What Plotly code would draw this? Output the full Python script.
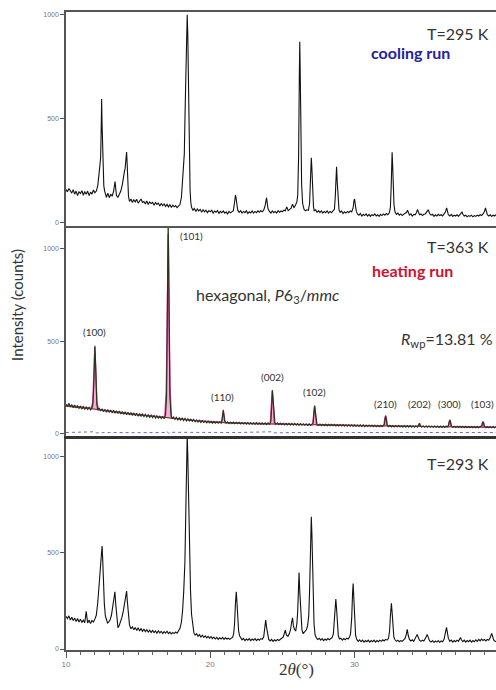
import plotly.graph_objects as go

# ---------------- data (2theta in degrees, intensity in counts) ----------------
cooling_295K = [
(10.0,158),(10.1,146),(10.2,162),(10.3,150),(10.4,140),(10.5,157),(10.6,135),(10.7,150),(10.8,128),(10.9,146),
(11.0,138),(11.1,152),(11.2,130),(11.3,148),(11.4,134),(11.5,150),(11.6,128),(11.7,145),(11.8,135),(11.9,155),
(12.0,142),(12.1,150),(12.2,175),(12.3,240),(12.35,295),(12.4,310),(12.44,450),(12.47,592),(12.5,470),(12.54,330),
(12.58,230),(12.62,175),(12.68,150),(12.75,132),(12.8,120),(12.9,140),(13.0,118),(13.1,135),(13.2,125),(13.3,150),
(13.35,190),(13.4,196),(13.45,160),(13.5,128),(13.6,120),(13.7,138),(13.8,150),(13.9,180),(14.0,235),(14.05,245),
(14.1,260),(14.15,300),(14.2,338),(14.24,280),(14.28,180),(14.33,125),(14.4,100),(14.5,112),(14.6,95),(14.7,108),
(14.8,98),(14.9,110),(15.0,92),(15.1,104),(15.2,112),(15.3,95),(15.4,100),(15.5,88),(15.6,102),(15.7,85),
(15.8,98),(15.9,90),(16.0,96),(16.1,82),(16.2,95),(16.3,86),(16.4,92),(16.5,78),(16.6,90),(16.7,80),
(16.8,88),(16.9,76),(17.0,86),(17.1,74),(17.2,84),(17.3,72),(17.4,82),(17.5,74),(17.6,80),(17.7,70),
(17.8,78),(17.9,85),(18.0,120),(18.1,205),(18.2,330),(18.25,520),(18.3,760),(18.35,940),(18.4,998),(18.44,900),
(18.48,650),(18.52,420),(18.56,260),(18.6,150),(18.65,95),(18.7,72),(18.8,58),(18.9,66),(19.0,52),(19.1,64),
(19.2,55),(19.3,62),(19.4,48),(19.5,60),(19.6,50),(19.7,58),(19.8,46),(19.9,56),(20.0,50),(20.1,58),
(20.2,44),(20.3,54),(20.4,48),(20.5,56),(20.6,42),(20.7,52),(20.8,46),(20.9,54),(21.0,44),(21.1,50),
(21.2,40),(21.3,52),(21.4,45),(21.5,50),(21.6,56),(21.68,95),(21.74,130),(21.78,120),(21.84,80),(21.9,58),
(22.0,48),(22.1,56),(22.2,44),(22.3,52),(22.4,46),(22.5,55),(22.6,42),(22.7,50),(22.8,45),(22.9,54),
(23.0,44),(23.1,52),(23.2,46),(23.3,55),(23.4,48),(23.5,56),(23.6,50),(23.7,58),(23.8,80),(23.86,112),
(23.9,118),(23.95,90),(24.0,65),(24.1,52),(24.2,44),(24.3,54),(24.4,46),(24.5,52),(24.6,44),(24.7,56),
(24.8,48),(24.9,54),(25.0,50),(25.1,58),(25.2,55),(25.3,74),(25.4,56),(25.5,62),(25.6,68),(25.7,87),
(25.8,70),(25.9,82),(26.0,98),(26.06,130),(26.12,320),(26.17,700),(26.2,868),(26.24,680),(26.28,380),(26.33,180),
(26.4,90),(26.5,62),(26.6,55),(26.7,60),(26.8,58),(26.88,90),(26.94,200),(27.0,310),(27.04,260),(27.09,140),
(27.15,75),(27.2,55),(27.3,60),(27.4,48),(27.5,56),(27.6,46),(27.7,54),(27.8,44),(27.9,52),(28.0,46),
(28.1,54),(28.2,44),(28.3,52),(28.4,46),(28.5,54),(28.6,62),(28.66,120),(28.72,220),(28.75,267),(28.8,190),
(28.85,100),(28.92,60),(29.0,48),(29.1,54),(29.2,42),(29.3,50),(29.4,44),(29.5,52),(29.6,46),(29.7,54),
(29.8,50),(29.9,70),(29.96,105),(30.0,112),(30.05,85),(30.12,52),(30.2,40),(30.3,34),(30.4,42),(30.5,30),
(30.6,38),(30.7,32),(30.8,40),(30.9,30),(31.0,38),(31.1,28),(31.2,36),(31.3,32),(31.4,40),(31.5,30),
(31.6,36),(31.7,28),(31.8,38),(31.9,32),(32.0,40),(32.1,34),(32.2,42),(32.3,36),(32.4,44),(32.48,70),
(32.54,180),(32.6,336),(32.64,270),(32.68,160),(32.73,85),(32.8,50),(32.9,38),(33.0,44),(33.1,34),(33.2,40),
(33.3,32),(33.4,38),(33.5,42),(33.6,48),(33.67,58),(33.75,42),(33.8,34),(33.9,40),(34.0,30),(34.1,38),
(34.2,36),(34.3,48),(34.36,62),(34.45,44),(34.5,36),(34.6,40),(34.7,32),(34.8,38),(34.9,40),(35.0,50),
(35.1,60),(35.2,42),(35.3,34),(35.4,38),(35.5,28),(35.6,36),(35.7,30),(35.8,38),(35.9,32),(36.0,36),
(36.1,30),(36.2,40),(36.3,50),(36.38,69),(36.45,50),(36.5,36),(36.6,30),(36.7,38),(36.8,28),(36.9,34),
(37.0,30),(37.1,36),(37.2,28),(37.3,38),(37.4,44),(37.45,50),(37.5,38),(37.6,30),(37.7,34),(37.8,26),
(37.9,32),(38.0,28),(38.1,34),(38.2,26),(38.3,32),(38.4,28),(38.5,34),(38.6,30),(38.7,36),(38.8,32),
(38.9,40),(39.0,52),(39.07,69),(39.15,48),(39.2,36),(39.3,30),(39.4,36),(39.5,28),(39.6,34),(39.7,30),(39.8,36),
]

heating_363K_obs = [
(10.0,160),(10.1,150),(10.2,166),(10.3,148),(10.4,158),(10.5,142),(10.6,156),(10.7,140),(10.8,152),(10.9,138),
(11.0,150),(11.1,136),(11.2,148),(11.3,134),(11.4,146),(11.5,132),(11.6,144),(11.7,130),(11.8,142),(11.85,150),
(11.92,250),(11.97,420),(12.0,477),(12.04,400),(12.08,250),(12.14,160),(12.2,128),(12.3,140),(12.4,124),(12.5,136),
(12.6,120),(12.7,134),(12.8,118),(12.9,132),(13.0,116),(13.1,130),(13.2,114),(13.3,128),(13.4,112),(13.5,126),
(13.6,110),(13.7,124),(13.8,108),(13.9,122),(14.0,106),(14.1,120),(14.2,104),(14.3,118),(14.4,102),(14.5,116),
(14.6,100),(14.7,114),(14.8,98),(14.9,112),(15.0,96),(15.1,110),(15.2,95),(15.3,108),(15.4,94),(15.5,106),
(15.6,92),(15.7,104),(15.8,90),(15.9,102),(16.0,88),(16.1,100),(16.2,86),(16.3,98),(16.4,85),(16.5,96),
(16.6,84),(16.7,94),(16.8,82),(16.9,105),(16.97,200),(17.02,600),(17.06,1100),(17.08,1160),(17.11,1000),(17.15,500),
(17.2,200),(17.28,100),(17.35,82),(17.45,92),(17.55,78),(17.65,90),(17.75,76),(17.85,88),(17.95,74),(18.05,86),
(18.15,72),(18.25,84),(18.35,70),(18.45,82),(18.55,70),(18.65,80),(18.75,68),(18.85,78),(18.95,66),(19.05,76),
(19.15,64),(19.25,74),(19.35,62),(19.45,72),(19.55,62),(19.65,70),(19.75,60),(19.85,70),(19.95,60),(20.05,68),
(20.15,58),(20.25,68),(20.35,58),(20.45,66),(20.55,58),(20.65,66),(20.75,58),(20.82,75),(20.87,110),(20.9,130),
(20.94,105),(21.0,70),(21.1,58),(21.2,66),(21.3,56),(21.4,64),(21.5,56),(21.6,64),(21.7,55),(21.8,63),
(21.9,55),(22.0,63),(22.1,54),(22.2,62),(22.3,54),(22.4,62),(22.5,53),(22.6,62),(22.7,53),(22.8,61),
(22.9,53),(23.0,61),(23.1,52),(23.2,61),(23.3,52),(23.4,60),(23.5,52),(23.6,60),(23.7,52),(23.8,60),
(23.9,51),(24.0,60),(24.1,52),(24.2,68),(24.25,140),(24.3,238),(24.34,200),(24.4,110),(24.48,62),(24.55,52),
(24.65,60),(24.75,50),(24.85,59),(24.95,50),(25.05,58),(25.15,49),(25.25,58),(25.35,49),(25.45,57),(25.55,48),
(25.65,57),(25.75,48),(25.85,57),(25.95,48),(26.05,56),(26.15,47),(26.25,56),(26.35,47),(26.45,55),(26.55,47),
(26.65,55),(26.75,46),(26.85,55),(26.95,46),(27.05,54),(27.13,60),(27.18,110),(27.23,153),(27.27,125),(27.33,75),
(27.4,52),(27.5,46),(27.6,54),(27.7,45),(27.8,53),(27.9,45),(28.0,53),(28.1,44),(28.2,52),(28.3,44),
(28.4,52),(28.5,44),(28.6,52),(28.7,43),(28.8,51),(28.9,43),(29.0,51),(29.1,43),(29.2,51),(29.3,42),
(29.4,50),(29.5,42),(29.6,50),(29.7,42),(29.8,50),(29.9,41),(30.0,50),(30.1,41),(30.2,49),(30.3,41),
(30.4,49),(30.5,40),(30.6,49),(30.7,40),(30.8,48),(30.9,40),(31.0,48),(31.1,40),(31.2,48),(31.3,39),
(31.4,48),(31.5,39),(31.6,47),(31.7,39),(31.8,47),(31.9,39),(32.0,47),(32.07,52),(32.12,85),(32.15,99),
(32.19,80),(32.25,50),(32.35,40),(32.45,47),(32.55,38),(32.65,46),(32.75,38),(32.85,46),(32.95,38),(33.05,46),
(33.15,38),(33.25,45),(33.35,37),(33.45,45),(33.55,37),(33.65,45),(33.75,37),(33.85,45),(33.95,37),(34.05,44),
(34.15,37),(34.25,44),(34.35,37),(34.45,48),(34.5,58),(34.55,46),(34.65,37),(34.75,44),(34.85,36),(34.95,44),
(35.05,36),(35.15,44),(35.25,36),(35.35,43),(35.45,36),(35.55,43),(35.65,36),(35.75,43),(35.85,35),(35.95,43),
(36.05,35),(36.15,43),(36.25,35),(36.35,43),(36.45,38),(36.52,48),(36.57,70),(36.6,76),(36.64,65),(36.7,44),
(36.8,36),(36.9,42),(37.0,35),(37.1,42),(37.2,35),(37.3,42),(37.4,34),(37.5,42),(37.6,34),(37.7,42),
(37.8,34),(37.9,41),(38.0,34),(38.1,41),(38.2,34),(38.3,41),(38.4,34),(38.5,41),(38.6,34),(38.7,41),
(38.82,46),(38.87,62),(38.9,66),(38.94,58),(39.0,42),(39.1,34),(39.2,40),(39.3,33),(39.4,40),(39.5,33),
(39.6,40),(39.7,33),(39.8,40),
]

heating_363K_calc = [
(10.0,155),(11.75,139),(11.86,170),(11.93,330),(12.0,470),(12.07,330),(12.14,170),(12.25,131),(14.0,113),(15.0,104),
(16.85,91),(16.95,240),(17.02,640),(17.08,1080),(17.14,640),(17.21,240),(17.31,87),(19.0,72),(20.78,64),(20.85,100),
(20.9,125),(20.95,100),(21.02,62),(22.5,58),(24.16,55),(24.23,150),(24.3,232),(24.37,150),(24.44,55),(26.0,52),
(27.1,50),(27.17,110),(27.23,150),(27.29,110),(27.36,50),(30.0,46),(32.03,43),(32.09,80),(32.15,97),(32.21,80),
(32.27,43),(34.42,41),(34.5,57),(34.58,41),(36.49,40),(36.55,65),(36.6,75),(36.65,65),(36.71,40),(38.8,38),
(38.85,58),(38.9,66),(38.95,58),(39.0,38),(39.8,37),
]

heating_363K_bg = [
(10.0,150),(12.0,134),(14.0,112),(15.0,104),(17.0,88),(19.0,70),(20.0,64),(22.5,56),(25.0,52),(30.0,45),(35.0,40),(39.8,36),
]

heating_363K_diff = [
(10.0,8),(11.9,8),(12.0,12),(12.1,6),(13.0,8),(15.0,7),(16.5,9),(16.9,8),(17.0,14),(17.1,4),(17.3,9),(19.0,8),
(22.0,8),(24.3,12),(24.4,6),(26.0,8),(30.0,8),(32.15,11),(33.0,8),(36.6,10),(38.9,10),(39.8,8),
]

cooling_293K = [
(10.0,170),(10.1,158),(10.2,172),(10.3,150),(10.4,165),(10.5,148),(10.6,160),(10.7,142),(10.8,158),(10.9,140),
(11.0,155),(11.1,138),(11.2,150),(11.3,136),(11.4,195),(11.45,150),(11.5,135),(11.6,150),(11.7,132),(11.8,148),
(11.9,140),(12.0,155),(12.1,175),(12.2,240),(12.3,342),(12.38,380),(12.44,460),(12.5,534),(12.54,470),(12.6,330),
(12.66,230),(12.73,170),(12.8,150),(12.88,135),(12.95,140),(13.05,150),(13.15,175),(13.25,230),(13.32,270),(13.39,297),
(13.45,230),(13.52,150),(13.6,110),(13.68,120),(13.78,140),(13.88,165),(13.98,200),(14.06,230),(14.12,270),(14.2,300),
(14.26,240),(14.33,160),(14.4,125),(14.5,105),(14.6,115),(14.7,100),(14.8,112),(14.9,96),(15.0,110),(15.1,94),
(15.2,106),(15.3,92),(15.4,104),(15.5,90),(15.6,100),(15.7,88),(15.8,98),(15.9,86),(16.0,96),(16.1,85),
(16.2,94),(16.3,82),(16.4,95),(16.5,84),(16.6,92),(16.7,80),(16.8,90),(16.9,82),(17.0,92),(17.1,80),
(17.2,88),(17.3,78),(17.4,86),(17.5,80),(17.6,88),(17.7,82),(17.8,92),(17.9,107),(18.0,140),(18.08,200),
(18.16,300),(18.24,450),(18.3,700),(18.35,950),(18.4,1110),(18.44,1000),(18.48,800),(18.53,560),(18.58,380),(18.63,300),
(18.7,180),(18.78,110),(18.86,85),(18.95,72),(19.05,80),(19.15,66),(19.25,74),(19.35,62),(19.45,72),(19.55,60),
(19.65,68),(19.75,58),(19.85,66),(19.95,56),(20.05,64),(20.15,54),(20.25,62),(20.35,52),(20.45,60),(20.55,50),
(20.65,58),(20.75,52),(20.85,60),(20.95,50),(21.05,58),(21.15,52),(21.25,56),(21.35,50),(21.45,58),(21.55,62),
(21.62,80),(21.68,130),(21.74,230),(21.8,297),(21.85,240),(21.9,150),(21.96,95),(22.03,68),(22.1,56),(22.2,48),
(22.3,55),(22.4,44),(22.5,52),(22.6,46),(22.7,54),(22.8,44),(22.9,52),(23.0,46),(23.1,54),(23.2,44),
(23.3,52),(23.4,46),(23.5,54),(23.6,50),(23.7,62),(23.78,110),(23.84,150),(23.9,112),(23.98,65),(24.05,50),
(24.15,42),(24.25,50),(24.35,40),(24.45,48),(24.55,42),(24.65,50),(24.75,44),(24.85,52),(24.95,56),(25.05,62),
(25.15,80),(25.2,98),(25.28,72),(25.38,66),(25.48,80),(25.56,100),(25.64,140),(25.7,162),(25.76,120),(25.84,100),
(25.92,95),(26.0,130),(26.06,200),(26.11,330),(26.15,397),(26.2,300),(26.27,160),(26.35,100),(26.43,80),(26.5,88),
(26.58,95),(26.66,100),(26.74,120),(26.82,170),(26.88,300),(26.94,520),(27.0,686),(27.04,600),(27.08,420),(27.13,250),
(27.19,130),(27.26,75),(27.35,58),(27.45,50),(27.55,56),(27.65,46),(27.75,54),(27.85,44),(27.95,52),(28.05,46),
(28.15,54),(28.25,48),(28.35,56),(28.45,60),(28.53,80),(28.6,140),(28.66,230),(28.7,259),(28.75,210),(28.8,120),
(28.87,70),(28.95,52),(29.05,56),(29.15,46),(29.25,54),(29.35,48),(29.45,56),(29.55,52),(29.65,62),(29.72,80),
(29.8,160),(29.86,290),(29.9,340),(29.95,260),(30.0,140),(30.07,70),(30.15,50),(30.25,40),(30.35,48),(30.45,38),
(30.55,46),(30.65,36),(30.75,44),(30.85,38),(30.95,46),(31.05,36),(31.15,44),(31.25,38),(31.35,46),(31.45,36),
(31.55,44),(31.65,38),(31.75,46),(31.85,40),(31.95,48),(32.05,42),(32.15,50),(32.25,46),(32.35,56),(32.42,90),
(32.48,170),(32.55,237),(32.6,190),(32.66,110),(32.72,62),(32.8,48),(32.9,40),(33.0,46),(33.1,38),(33.2,44),
(33.3,40),(33.4,48),(33.5,55),(33.58,75),(33.65,102),(33.72,70),(33.8,50),(33.9,42),(34.0,48),(34.1,40),
(34.2,52),(34.3,66),(34.34,76),(34.4,62),(34.5,46),(34.6,40),(34.7,46),(34.8,42),(34.9,52),(34.98,66),
(35.03,76),(35.1,58),(35.2,42),(35.3,36),(35.4,44),(35.5,34),(35.6,42),(35.7,36),(35.8,44),(35.9,34),
(36.0,42),(36.1,38),(36.2,50),(36.28,80),(36.34,108),(36.37,112),(36.42,90),(36.5,55),(36.6,40),(36.7,46),
(36.8,36),(36.9,44),(37.0,38),(37.1,46),(37.2,40),(37.3,52),(37.34,60),(37.4,48),(37.5,38),(37.6,46),
(37.7,36),(37.8,44),(37.9,38),(38.0,46),(38.1,36),(38.2,44),(38.3,38),(38.4,48),(38.5,40),(38.6,50),
(38.7,42),(38.8,52),(38.9,44),(39.0,50),(39.1,42),(39.2,50),(39.3,46),(39.4,60),(39.5,81),(39.58,62),
(39.65,45),(39.75,40),(39.85,36),
]

hkl_labels = ["(100)", "(101)", "(110)", "(002)", "(102)", "(210)", "(202)", "(300)", "(103)"]
hkl_label_x = [12.0, 18.72, 20.87, 24.33, 27.23, 32.15, 34.5, 36.57, 38.86]
hkl_label_y = [551, 1070, 200, 308, 227, 162, 162, 162, 162]

x_ticks = [10, 20, 30]
y_ticks = [0, 500, 1000]

# ---------------- figure ----------------
def xs(d):
    return [p[0] for p in d]

def ys(d):
    return [p[1] for p in d]

fig = go.Figure()

# top panel: T = 295 K (cooling run)
fig.add_trace(go.Scatter(x=xs(cooling_295K), y=ys(cooling_295K), mode="lines",
                         line=dict(color="#111111", width=1.1), xaxis="x3", yaxis="y3"))

# middle panel: T = 363 K refinement
fig.add_trace(go.Scatter(x=xs(heating_363K_diff), y=ys(heating_363K_diff), mode="lines",
                         line=dict(color="#6a6ac8", width=1, dash="dot"), xaxis="x2", yaxis="y2"))
fig.add_trace(go.Scatter(x=xs(heating_363K_bg), y=ys(heating_363K_bg), mode="lines",
                         line=dict(color="#5a2020", width=1), xaxis="x2", yaxis="y2"))
fig.add_trace(go.Scatter(x=xs(heating_363K_calc), y=ys(heating_363K_calc), mode="lines",
                         line=dict(color="#d8307f", width=1.4), fill="tonexty",
                         fillcolor="rgba(236,120,190,0.6)", xaxis="x2", yaxis="y2"))
fig.add_trace(go.Scatter(x=xs(heating_363K_obs), y=ys(heating_363K_obs), mode="lines",
                         line=dict(color="#22361c", width=1.1), xaxis="x2", yaxis="y2"))

# bottom panel: T = 293 K
fig.add_trace(go.Scatter(x=xs(cooling_293K), y=ys(cooling_293K), mode="lines",
                         line=dict(color="#111111", width=1.1), xaxis="x", yaxis="y"))

axis_line = dict(showline=True, linecolor="#555555", linewidth=1.5, showgrid=False, zeroline=False)
ytick_style = dict(tickmode="array", tickvals=y_ticks, ticks="outside", ticklen=4, tickcolor="#555555",
                   tickfont=dict(size=7, color="#777777", family="Liberation Sans"))

fig.update_layout(
    width=496, height=690,
    margin=dict(l=66, r=0, t=12, b=40),
    paper_bgcolor="white", plot_bgcolor="white",
    showlegend=False,
    font=dict(family="Lato", color="#333333"),
    xaxis=dict(domain=[0, 1], anchor="y", range=[10, 39.8], tickmode="array", tickvals=x_ticks,
               ticks="outside", ticklen=6, tickcolor="#555555",
               minor=dict(dtick=1, ticks="outside", ticklen=3, tickcolor="#666666"),
               tickfont=dict(size=8, color="#777777", family="Liberation Sans"), **axis_line),
    xaxis2=dict(domain=[0, 1], anchor="y2", matches="x", showticklabels=False, ticks="",
                showline=True, linecolor="#333333", linewidth=2.5, showgrid=False, zeroline=False),
    xaxis3=dict(domain=[0, 1], anchor="y3", matches="x", showticklabels=False, ticks="",
                mirror=True, **axis_line),
    yaxis=dict(domain=[0, 0.3354], range=[-5, 1104], anchor="x", **ytick_style, **axis_line),
    yaxis2=dict(domain=[0.3354, 0.6646], range=[-11, 1124], anchor="x2", **ytick_style, **axis_line),
    yaxis3=dict(domain=[0.6646, 1], range=[-18, 1011], anchor="x3", **ytick_style, **axis_line),
)

ann = []
big = dict(size=16, color="#333333", family="Lato")
ann.append(dict(text="T=295 K", xref="paper", yref="paper", x=0.988, y=0.967, xanchor="right",
                yanchor="middle", showarrow=False, font=big))
ann.append(dict(text="<b>cooling run</b>", xref="paper", yref="paper", x=0.802, y=0.936,
                xanchor="center", yanchor="middle", showarrow=False,
                font=dict(size=16, color="#2222a0", family="Lato")))
ann.append(dict(text="T=363 K", xref="paper", yref="paper", x=0.988, y=0.6317, xanchor="right",
                yanchor="middle", showarrow=False, font=big))
ann.append(dict(text="<b>heating run</b>", xref="paper", yref="paper", x=0.805, y=0.5956,
                xanchor="center", yanchor="middle", showarrow=False,
                font=dict(size=16, color="#d01030", family="Lato")))
ann.append(dict(text="hexagonal, <i>P</i>6<sub>3</sub>/<i>mmc</i>", xref="paper", yref="paper",
                x=0.468, y=0.5564, xanchor="center", yanchor="middle", showarrow=False, font=big))
ann.append(dict(text="<i>R</i><sub>wp</sub>=13.81 %", xref="paper", yref="paper", x=0.998, y=0.4859,
                xanchor="right", yanchor="middle", showarrow=False, font=big))
ann.append(dict(text="T=293 K", xref="paper", yref="paper", x=0.988, y=0.2931, xanchor="right",
                yanchor="middle", showarrow=False, font=big))
ann.append(dict(text="Intensity (counts)", xref="paper", yref="paper", x=-0.114, y=0.5408,
                xanchor="center", yanchor="middle", textangle=-90, showarrow=False,
                font=dict(size=15, color="#333333", family="Lato")))
ann.append(dict(text="2<i>θ</i>(°)", xref="paper", yref="paper", x=0.537, y=-0.031,
                xanchor="center", yanchor="middle", showarrow=False,
                font=dict(size=17, color="#333333", family="Liberation Serif")))
for t, lx, ly in zip(hkl_labels, hkl_label_x, hkl_label_y):
    ann.append(dict(text=t, x=lx, y=ly, xref="x2", yref="y2", xanchor="center", yanchor="middle",
                    showarrow=False, font=dict(size=10, color="#333333", family="Lato")))
fig.update_layout(annotations=ann)

fig.write_html("out.html", config={"displayModeBar": False},
               post_script="document.body.style.margin='0';document.body.style.overflow='hidden';")
